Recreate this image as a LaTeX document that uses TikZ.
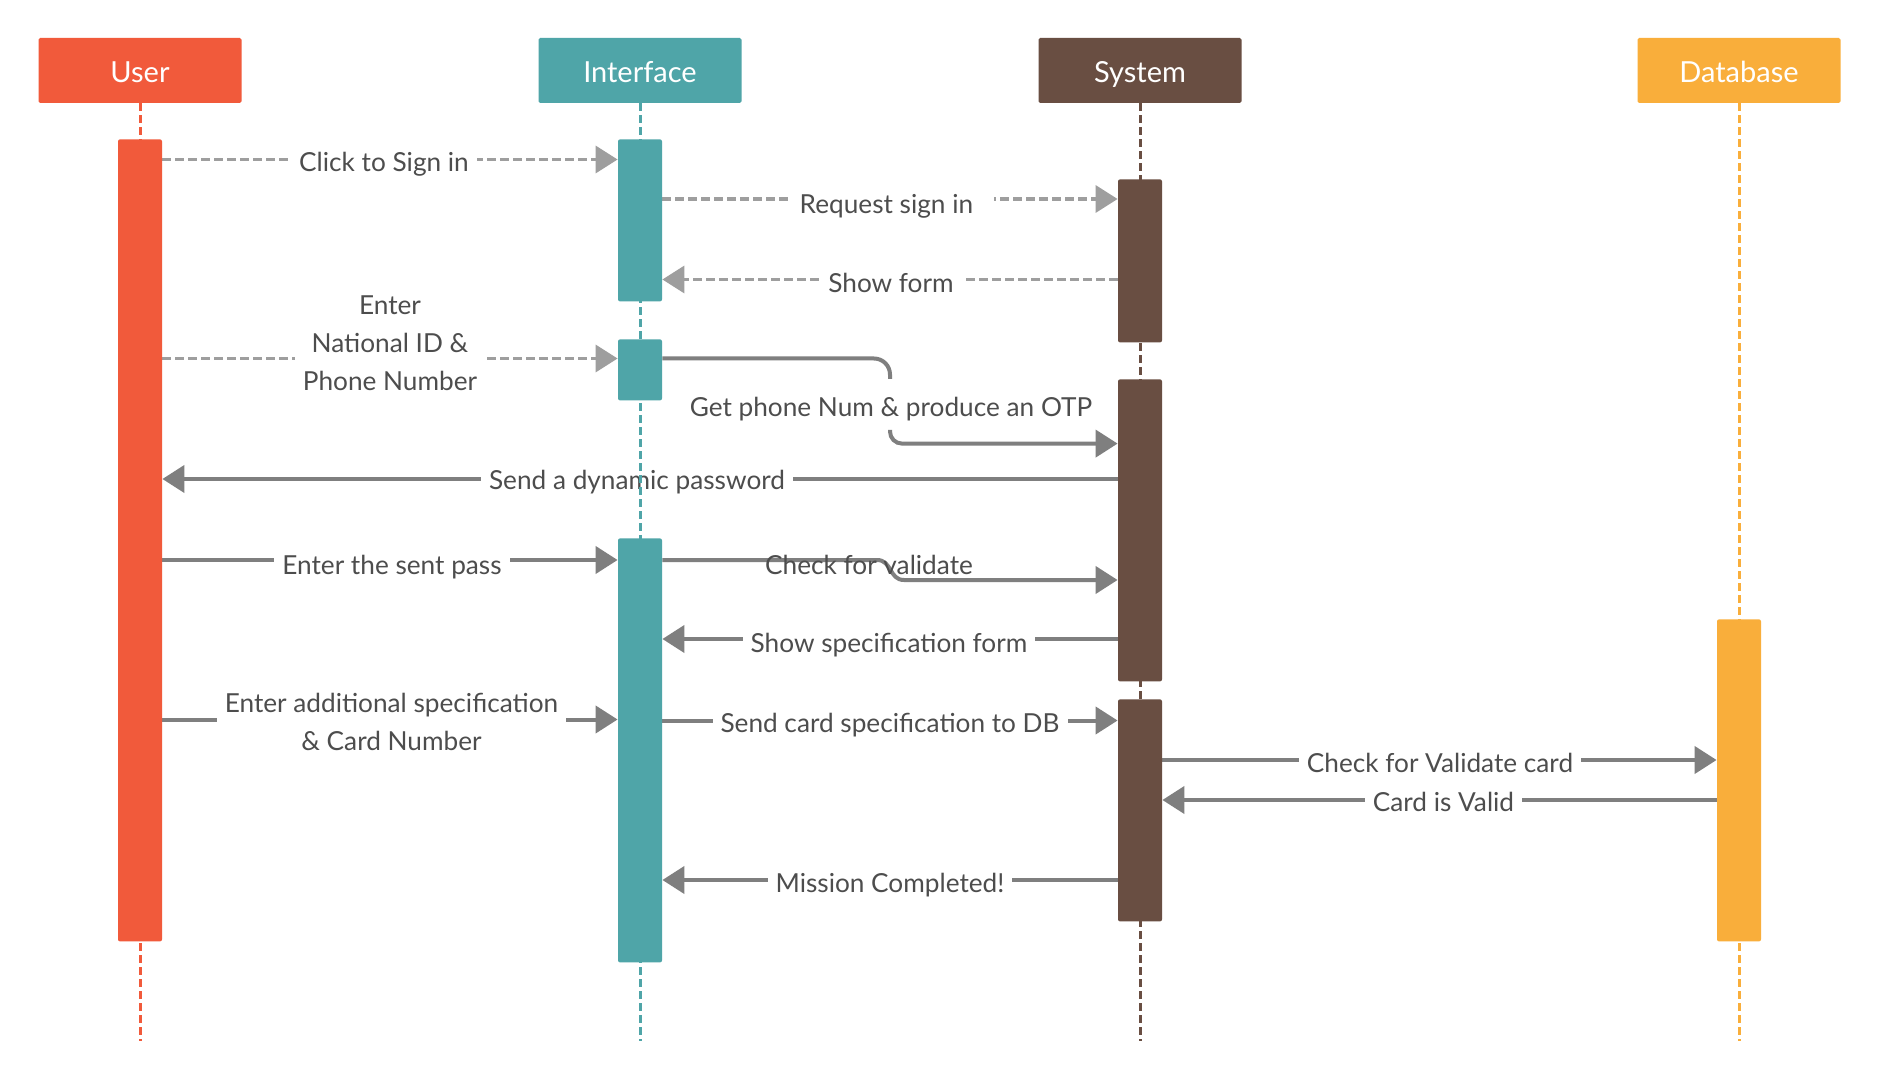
\documentclass[tikz,border=0pt]{standalone}
\usepackage{fontspec}
\setmainfont{Lato}
\usetikzlibrary{arrows.meta}
\definecolor{cuser}{HTML}{F15A3B}
\definecolor{cint}{HTML}{4FA5A8}
\definecolor{csys}{HTML}{694E42}
\definecolor{cdb}{HTML}{F9AE3B}
\definecolor{ctext}{HTML}{4D4D4D}
\definecolor{csolid}{HTML}{7F7F7F}
\definecolor{cdash}{HTML}{9E9E9E}
\pgfdeclarelayer{bg}
\pgfdeclarelayer{bgbase}
\pgfsetlayers{bgbase,bg,main}
\tikzset{
  header/.style={minimum width=101.5pt, minimum height=32.5pt, inner sep=0pt, text=white,
    font=\fontsize{14.5}{18}\selectfont, rounded corners=0.8pt, text height=1.27em, text depth=0.08em},
  actbar/.style={minimum width=22pt, inner sep=0pt, anchor=north, rounded corners=1pt},
  life/.style={line width=1.5pt, dash pattern=on 4pt off 2pt},
  msg/.style={draw=csolid, line width=2pt, -{Triangle[length=11pt,width=13.5pt]}},
  dmsg/.style={draw=cdash, line width=1.7pt, dash pattern=on 4.5pt off 2pt,
    -{Triangle[length=11pt,width=13.5pt]}},
  lblbase/.style={text=ctext, font=\fontsize{13.1}{19}\selectfont, align=center},
  lbl/.style={lblbase, fill=white, inner xsep=4pt, inner ysep=1pt, text height=0.75em, text depth=0.25em, yshift=-1.8pt},
  lblml/.style={lblbase, fill=white, inner xsep=4pt, inner ysep=1pt},
  lblnofill/.style={lblbase, inner sep=1pt, text height=0.75em, text depth=0.25em, yshift=-1.8pt}
}
\begin{document}
\begin{tikzpicture}[x=0.5pt,y=-0.5pt]
\useasboundingbox (0,0) rectangle (1880,1080);
\begin{pgfonlayer}{bgbase}
\fill[white] (0,0) rectangle (1880,1080);
\end{pgfonlayer}
% headers
\node[header, fill=cuser] (hu) at (140,70.5) {User};
\node[header, fill=cint] (hi) at (640,70.5) {Interface};
\node[header, fill=csys] (hs) at (1140,70.5) {System};
\node[header, fill=cdb] (hd) at (1739,70.5) {Database};
% lifeline ends
\coordinate (lu) at (140,1041);
\coordinate (li) at (640,1041);
\coordinate (ls) at (1140,1041);
\coordinate (ld) at (1739,1041);
\draw[life, draw=cuser] (hu.south) -- (lu);
\draw[life, draw=cint] (hi.south) -- (li);
\draw[life, draw=csys] (hs.south) -- (ls);
\draw[life, draw=cdb] (hd.south) -- (ld);
% activation bars
\node[actbar, fill=cuser, minimum height=401pt] (ub) at (140,139) {};
\node[actbar, fill=cint, minimum height=81pt] (ib1) at (640,139) {};
\node[actbar, fill=cint, minimum height=30.5pt] (ib2) at (640,339) {};
\node[actbar, fill=cint, minimum height=212pt] (ib3) at (640,538) {};
\node[actbar, fill=csys, minimum height=81.5pt] (sb1) at (1140,179) {};
\node[actbar, fill=csys, minimum height=151pt] (sb2) at (1140,379) {};
\node[actbar, fill=csys, minimum height=111pt] (sb3) at (1140,699) {};
\node[actbar, fill=cdb, minimum height=161pt] (db) at (1739,619) {};
\begin{pgfonlayer}{bg}
% 1
\draw[dmsg] (ub.east |- 0,159.5) -- (ib1.west |- 0,159.5);
\node[lbl] (l1) at (384,163) {Click to Sign in};
% 2
\draw[dmsg] (ib1.east |- 0,199) -- (sb1.west |- 0,199);
\node[lbl] (l2) at (893,205) {Request sign in\enspace};
% 3
\draw[dmsg] (sb1.west |- 0,279.5) -- (ib1.east |- 0,279.5);
\node[lbl] (l3) at (891,284) {Show form};
% 4
\draw[dmsg] (ub.east |- 0,358.5) -- (ib2.west |- 0,358.5);
\node[lblml] (l4) at (390,343) {Enter\\National ID \&\\Phone Number};
% 5
\coordinate (c5a) at (890,379);
\coordinate (c5b) at (890,430);
\draw[msg, -, rounded corners=8pt] (ib2.east |- 0,358.5) -- (890,358.5) -- (c5a);
\draw[msg, rounded corners=6pt] (c5b) -- (890,443.6) -- (sb2.west |- 0,443.6);
\node[lbl] (l5) at (891,407.5) {Get phone Num \& produce an OTP};
% 6
\draw[msg] (sb2.west |- 0,479) -- (ub.east |- 0,479);
\node[lbl] (l6) at (637,481) {Send a dynamic password};
% 7
\draw[msg] (ub.east |- 0,560) -- (ib3.west |- 0,560);
\node[lbl] (l7) at (392,566) {Enter the sent pass};
% 8
\draw[msg] (ib3.east |- 0,560) -- (877,560) .. controls (892,560) and (889,580) .. (904,580) -- (sb2.west |- 0,580);
\node[lblnofill] (l8) at (869,566) {Check for validate};
% 9
\draw[msg] (sb2.west |- 0,639) -- (ib3.east |- 0,639);
\node[lbl] (l9) at (889,644) {Show specification form};
% 10
\draw[msg] (ub.east |- 0,719.5) -- (ib3.west |- 0,719.5);
\node[lblml] (l10) at (391.5,722) {Enter additional specification\\\& Card Number};
% 11
\draw[msg] (ib3.east |- 0,720.5) -- (sb3.west |- 0,720.5);
\node[lbl] (l11) at (890,724) {Send card specification to DB};
% 12
\draw[msg] (sb3.east |- 0,760) -- (db.west |- 0,760);
\node[lbl] (l12) at (1440,763.5) {Check for Validate card};
% 13
\draw[msg] (db.west |- 0,800) -- (sb3.east |- 0,800);
\node[lbl] (l13) at (1443.5,803) {Card is Valid};
% 14
\draw[msg] (sb3.west |- 0,880) -- (ib3.east |- 0,880);
\node[lbl] (l14) at (890,883.5) {Mission Completed!};
\end{pgfonlayer}
\end{tikzpicture}
\end{document}
